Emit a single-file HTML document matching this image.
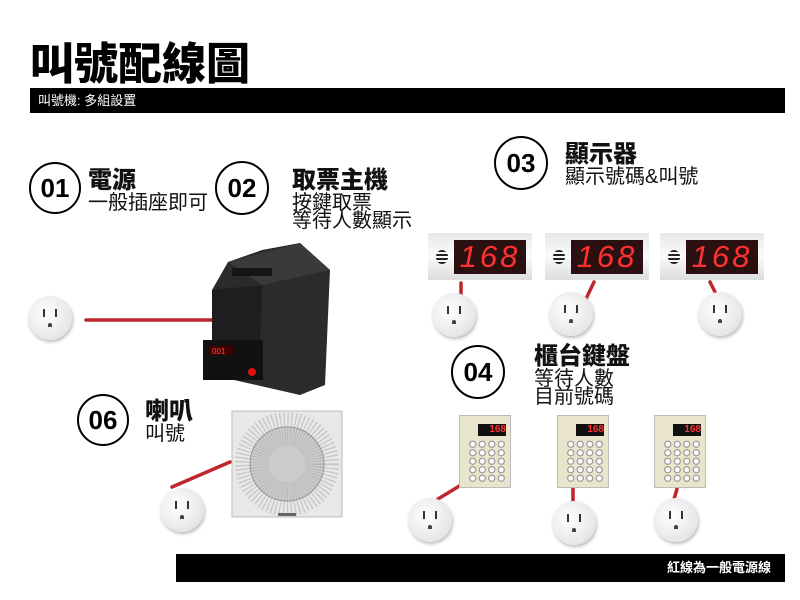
<!DOCTYPE html>
<html><head><meta charset="utf-8"><style>
body{margin:0;width:800px;height:600px;background:#fff;position:relative;overflow:hidden;font-family:"Liberation Sans","Noto Sans CJK TC",sans-serif}
.a{position:absolute}
.c{position:absolute;border:2.5px solid #000;border-radius:50%;box-sizing:border-box;display:flex;align-items:center;justify-content:center;font-weight:900;font-size:26px;background:#fff}
.h{font-weight:900;font-size:24px;line-height:26px;color:#111}
.s{font-size:20px;line-height:18px;color:#111}
.out{position:absolute;width:44px;height:44px;border-radius:50%;background:radial-gradient(circle at 40% 40%,#fff,#e6e6e6 70%,#ccc);box-shadow:1px 2px 3px #bbb}
.out:before{content:"";position:absolute;left:15px;top:13px;width:2px;height:8px;background:#333;box-shadow:12px 0 0 #333}
.out:after{content:"";position:absolute;left:20px;top:27px;width:4px;height:4px;background:#444;border-radius:2px 2px 0 0}
.disp{position:absolute;width:104px;height:47px;background:linear-gradient(#e8e8e8,#fafafa,#ddd)}
.disp .sc{position:absolute;left:26px;top:7px;width:72px;height:34px;background:#2a1010;color:#ff3030;font-family:"Liberation Sans",sans-serif;font-style:italic;font-size:31px;line-height:34px;text-align:center;letter-spacing:3px}
.disp .sp{position:absolute;left:8px;top:17px;width:12px;height:14px;background:repeating-linear-gradient(#222 0 2px,transparent 2px 4px);border-radius:50%}
.kp{position:absolute;width:52px;height:73px;background:#e9e4cc;border:1px solid #bbb;box-sizing:border-box}
.kp .sc{position:absolute;left:18px;top:8px;width:28px;height:12px;background:#111;color:#f33;font-size:10px;font-weight:bold;text-align:right;line-height:12px}
.kp .k{position:absolute;left:8px;top:24px;width:38px;height:42px;background:radial-gradient(circle,#fff 2px,#888 3px,transparent 4px) 0 0/9.5px 8.5px}
</style></head><body>
<div class="a" style="left:30px;top:28px;font-size:44px;font-weight:900;letter-spacing:0px">叫號配線圖</div>
<div class="a" style="left:30px;top:88px;width:755px;height:25px;background:#000;color:#fff;font-size:13px;line-height:25px;padding-left:8px;box-sizing:border-box">叫號機: 多組設置</div>

<svg class="a" style="left:0;top:0" width="800" height="600">
<g stroke="#c0272d" stroke-width="3.5" stroke-linecap="round">
<line x1="86" y1="320" x2="215" y2="320"/>
<line x1="461" y1="283" x2="461" y2="300"/>
<line x1="594" y1="282" x2="584" y2="303"/>
<line x1="710" y1="282" x2="718" y2="298"/>
<line x1="172" y1="487" x2="230" y2="462"/>
<line x1="438" y1="499" x2="461" y2="485"/>
<line x1="573" y1="489" x2="573" y2="512"/>
<line x1="677" y1="489" x2="670" y2="513"/>
</g>
<!-- printer -->
<polygon points="212,290 228,262 262,250 300,243 330,270 325,385 300,395 212,375" fill="#2b2b2b"/>
<polygon points="228,262 300,243 330,270 262,285" fill="#3a3a3a"/>
<rect x="232" y="268" width="40" height="8" fill="#151515"/>
<polygon points="212,290 262,285 260,352 212,345" fill="#1e1e1e"/>
<rect x="203" y="340" width="60" height="40" fill="#111"/>
<rect x="210" y="346" width="24" height="9" fill="#400"/>
<text x="212" y="354" font-size="8" fill="#f44" font-family="Liberation Sans">001</text>
<circle cx="252" cy="372" r="4" fill="#d11"/>
<!-- speaker -->
<rect x="232" y="411" width="110" height="106" fill="#e8e8e6" stroke="#bbb"/>
<circle cx="287" cy="464" r="37" fill="#ccc" stroke="#999"/>
<circle cx="287" cy="464" r="35" fill="none" stroke="#888" stroke-dasharray="1 2" stroke-width="34" opacity=".35"/>
<rect x="278" y="513" width="18" height="3" fill="#666"/>
</svg>

<div class="c" style="left:29px;top:162px;width:52px;height:52px">01</div>
<div class="a" style="left:88px;top:168px"><div class="h">電源</div><div class="s">一般插座即可</div></div>
<div class="c" style="left:215px;top:161px;width:54px;height:54px">02</div>
<div class="a" style="left:292px;top:168px"><div class="h">取票主機</div><div class="s">按鍵取票<br>等待人數顯示</div></div>
<div class="c" style="left:494px;top:136px;width:54px;height:54px">03</div>
<div class="a" style="left:565px;top:142px"><div class="h">顯示器</div><div class="s">顯示號碼&amp;叫號</div></div>
<div class="c" style="left:451px;top:345px;width:54px;height:54px">04</div>
<div class="a" style="left:534px;top:344px"><div class="h">櫃台鍵盤</div><div class="s">等待人數<br>目前號碼</div></div>
<div class="c" style="left:77px;top:394px;width:52px;height:52px">06</div>
<div class="a" style="left:145px;top:399px"><div class="h">喇叭</div><div class="s">叫號</div></div>

<div class="disp" style="left:428px;top:233px"><div class="sp"></div><div class="sc">168</div></div>
<div class="disp" style="left:545px;top:233px"><div class="sp"></div><div class="sc">168</div></div>
<div class="disp" style="left:660px;top:233px"><div class="sp"></div><div class="sc">168</div></div>

<div class="kp" style="left:459px;top:415px"><div class="sc">168</div><div class="k"></div></div>
<div class="kp" style="left:557px;top:415px"><div class="sc">168</div><div class="k"></div></div>
<div class="kp" style="left:654px;top:415px"><div class="sc">168</div><div class="k"></div></div>

<div class="out" style="left:28px;top:296px"></div>
<div class="out" style="left:432px;top:293px"></div>
<div class="out" style="left:549px;top:292px"></div>
<div class="out" style="left:698px;top:292px"></div>
<div class="out" style="left:160px;top:488px"></div>
<div class="out" style="left:408px;top:498px"></div>
<div class="out" style="left:552px;top:501px"></div>
<div class="out" style="left:654px;top:498px"></div>

<div class="a" style="left:176px;top:554px;width:609px;height:28px;background:#000;color:#fff;font-size:13px;font-weight:bold;line-height:28px;text-align:right;padding-right:14px;box-sizing:border-box">紅線為一般電源線</div>
</body></html>
